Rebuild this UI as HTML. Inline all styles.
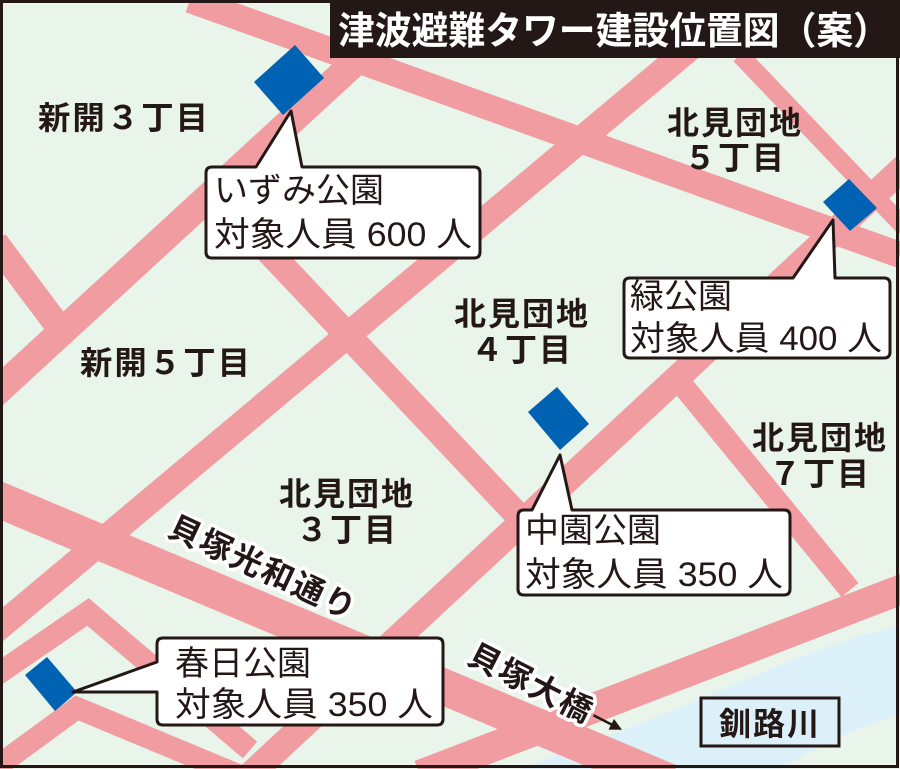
<!DOCTYPE html>
<html><head><meta charset="utf-8"><style>
html,body{margin:0;padding:0;background:#fff}
svg{display:block}
text{font-family:"Liberation Sans","Noto Sans CJK JP",sans-serif;fill:#231815}
.lb{font-size:32px;font-weight:bold;letter-spacing:2px}
.cl{font-size:34px}
</style></head><body>
<svg width="900" height="769" viewBox="0 0 900 769" xmlns="http://www.w3.org/2000/svg">
<rect x="0" y="0" width="900" height="769" fill="#e9f4ea"/>
<path d="M520,769 C600,740 700,700 780,665 C830,645 870,632 900,626 L900,715 C860,725 820,745 780,769 Z" fill="#dcf0fa"/>
<g stroke="#f09ca0" fill="none" stroke-linecap="butt">
<line x1="190" y1="0" x2="900" y2="255" stroke-width="26"/>
<line x1="-10" y1="398" x2="390" y2="30" stroke-width="28"/>
<line x1="-10" y1="635" x2="690" y2="48" stroke-width="26"/>
<line x1="-5" y1="242" x2="55" y2="322" stroke-width="26"/>
<line x1="220" y1="200" x2="560" y2="560" stroke-width="26"/>
<line x1="250" y1="775" x2="905" y2="166" stroke-width="26"/>
<line x1="670" y1="370" x2="850" y2="590" stroke-width="22"/>
<line x1="740" y1="55" x2="905" y2="228" stroke-width="18"/>
<line x1="420" y1="775" x2="905" y2="588" stroke-width="30"/>
<line x1="-10" y1="496" x2="670" y2="782" stroke-width="36"/>
<polyline points="-5,676 88,612 250,750" stroke-width="22"/>
<polyline points="-5,768 77,708 250,780" stroke-width="22"/>
</g>
<rect x="330" y="0" width="570" height="58" fill="#231815"/>
<text x="338" y="44" textLength="552" lengthAdjust="spacingAndGlyphs" style="font-size:38px;font-weight:bold;fill:#fff">津波避難タワー建設位置図（案）</text>
<rect x="1.5" y="1.5" width="896" height="765" fill="none" stroke="#231815" stroke-width="3"/>
<g fill="#0062b2">
<polygon points="295,45 324,78 283,115 254,82"/>
<polygon points="849,179 877,208 850,231 823,202"/>
<polygon points="557,387 589,424 560,450 528,412"/>
<polygon points="25,675 47,657 77,692 55,711"/>
</g>
<g fill="#fff" stroke="#231815" stroke-width="3" stroke-linejoin="round">
<path d="M212,167 H256 L291,111 L302,167 H474 Q480,167 480,173 V252 Q480,258 474,258 H212 Q206,258 206,252 V173 Q206,167 212,167 Z"/>
<path d="M630,278 H793 L833,220 L835,278 H884 Q890,278 890,284 V352 Q890,358 884,358 H630 Q624,358 624,352 V284 Q624,278 630,278 Z"/>
<path d="M524,510 H532 L560,455 L572,510 H784 Q790,510 790,516 V589 Q790,595 784,595 H524 Q518,595 518,589 V516 Q518,510 524,510 Z"/>
<path d="M163,638 H437 Q443,638 443,644 V719 Q443,725 437,725 H163 Q157,725 157,719 V692 L73,692 L157,662 V644 Q157,638 163,638 Z"/>
</g>
<text class="cl" x="214" y="202">いずみ公園</text>
<text class="cl" x="214" y="246" textLength="258" lengthAdjust="spacingAndGlyphs">対象人員 600 人</text>
<text class="cl" x="630" y="308">緑公園</text>
<text class="cl" x="630" y="350" textLength="252" lengthAdjust="spacingAndGlyphs">対象人員 400 人</text>
<text class="cl" x="525" y="542">中園公園</text>
<text class="cl" x="525" y="586" textLength="258" lengthAdjust="spacingAndGlyphs">対象人員 350 人</text>
<text class="cl" x="175" y="675">春日公園</text>
<text class="cl" x="175" y="716" textLength="258" lengthAdjust="spacingAndGlyphs">対象人員 350 人</text>
<text class="lb" x="38" y="129" textLength="172" lengthAdjust="spacingAndGlyphs">新開３丁目</text>
<text class="lb" x="80" y="374" textLength="172" lengthAdjust="spacingAndGlyphs">新開５丁目</text>
<g class="lb" text-anchor="middle">
<text x="735" y="134">北見団地</text><text x="735" y="169">５丁目</text>
<text x="522" y="325">北見団地</text><text x="522" y="361">４丁目</text>
<text x="820" y="449">北見団地</text><text x="820" y="485">７丁目</text>
<text x="347" y="505">北見団地</text><text x="347" y="541">３丁目</text>
</g>
<g transform="translate(263,568) rotate(25)">
<text x="0" y="11" text-anchor="middle" class="lb" style="stroke:#fff;stroke-width:7;stroke-linejoin:round;paint-order:stroke">貝塚光和通り</text>
</g>
<g transform="translate(540,688) rotate(27)">
<text x="-10" y="11" text-anchor="middle" class="lb" style="stroke:#fff;stroke-width:7;stroke-linejoin:round;paint-order:stroke">貝塚大橋</text>
<line x1="60" y1="0" x2="85" y2="0" stroke="#231815" stroke-width="2.5"/>
<polygon points="92,0 80,-6 80,6" fill="#231815"/>
</g>
<rect x="701" y="698" width="138" height="48" fill="#dcf0fa" stroke="#231815" stroke-width="3"/>
<text class="lb" x="770" y="735" text-anchor="middle">釧路川</text>
</svg>
</body></html>
